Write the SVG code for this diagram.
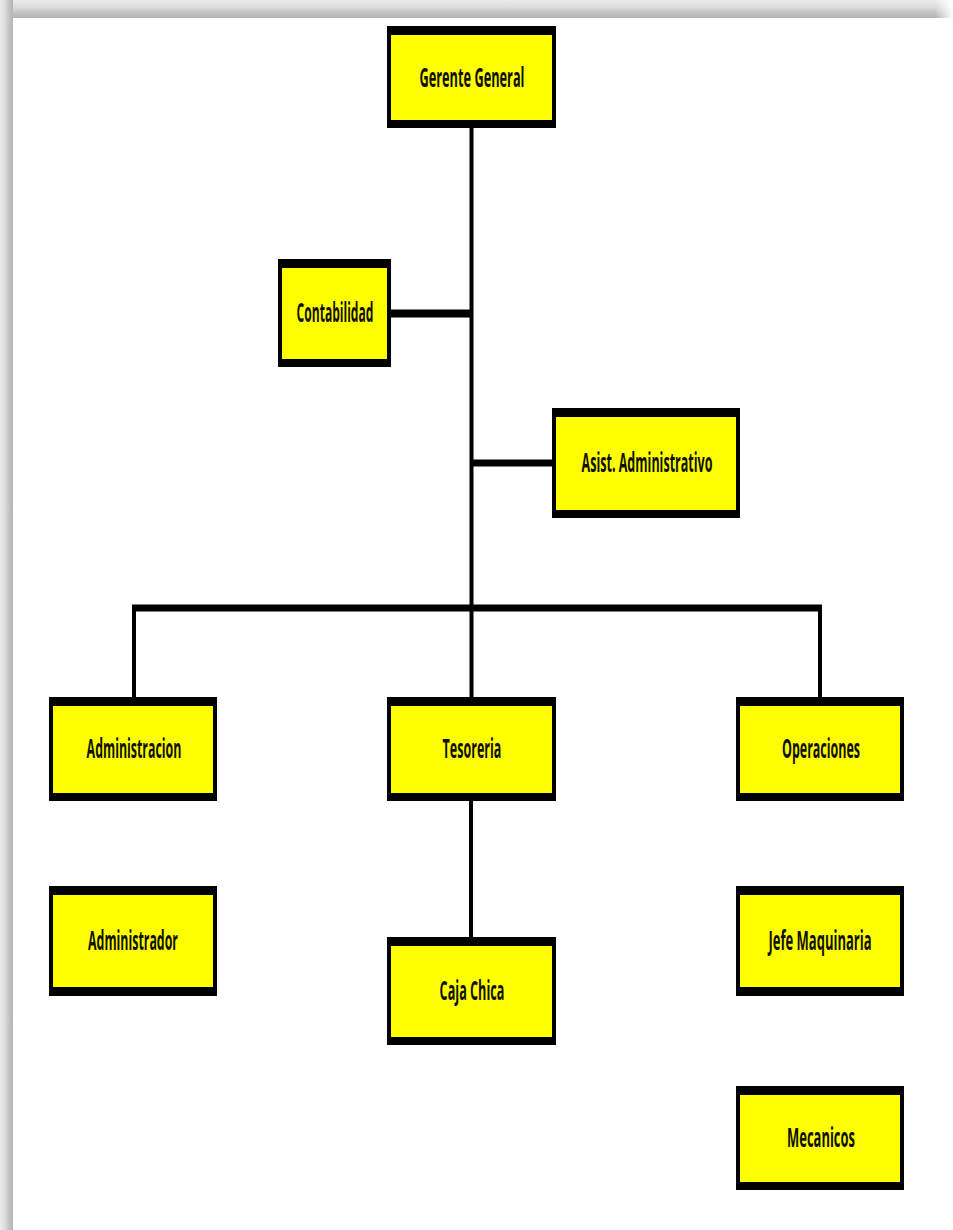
<svg xmlns="http://www.w3.org/2000/svg" width="953" height="1230" viewBox="0 0 953 1230">
<defs>
<linearGradient id="gTop" x1="0" y1="0" x2="0" y2="1">
<stop offset="0" stop-color="#ececec"/>
<stop offset="0.4" stop-color="#dcdcdc"/>
<stop offset="0.7" stop-color="#c4c4c4"/>
<stop offset="1" stop-color="#b3b3b3"/>
</linearGradient>
<linearGradient id="gLeft" x1="0" y1="0" x2="1" y2="0">
<stop offset="0" stop-color="#ececec"/>
<stop offset="0.4" stop-color="#dcdcdc"/>
<stop offset="0.7" stop-color="#c4c4c4"/>
<stop offset="1" stop-color="#b3b3b3"/>
</linearGradient>
<linearGradient id="gFade" x1="0" y1="0" x2="1" y2="0">
<stop offset="0" stop-color="#ffffff" stop-opacity="0"/>
<stop offset="1" stop-color="#ffffff" stop-opacity="1"/>
</linearGradient>
</defs>
<style>
.frame{fill:#000}
.fill{fill:#ffff00}
.lbl{font-family:"Open Sans","DejaVu Sans",sans-serif;font-weight:bold;font-size:27px;fill:#111100;text-anchor:middle}
.ln{stroke:#000;fill:none}
</style>
<rect x="0" y="0" width="953" height="1230" fill="#ffffff"/>
<rect x="0" y="0" width="953" height="18" fill="url(#gTop)"/>
<rect x="935" y="0" width="18" height="18" fill="url(#gFade)"/>
<rect x="0" y="0" width="13" height="1230" fill="url(#gLeft)"/>
<g id="connectors">
<line class="ln" x1="471.5" y1="128" x2="471.5" y2="697" stroke-width="4"/>
<line class="ln" x1="132" y1="608" x2="822" y2="608" stroke-width="7"/>
<line class="ln" x1="134" y1="605" x2="134" y2="697" stroke-width="4"/>
<line class="ln" x1="820" y1="605" x2="820" y2="697" stroke-width="4"/>
<line class="ln" x1="391" y1="313.5" x2="471" y2="313.5" stroke-width="8"/>
<line class="ln" x1="471" y1="463" x2="552" y2="463" stroke-width="7"/>
<line class="ln" x1="471" y1="801" x2="471" y2="937" stroke-width="4"/>
</g>
<g id="gerente-general">
<rect class="frame" x="387" y="26" width="169" height="102"/>
<rect class="fill" x="391" y="35" width="161" height="85"/>
<text class="lbl" transform="translate(472 87) scale(0.6 1)" x="0" y="0" textLength="175" lengthAdjust="spacingAndGlyphs">Gerente General</text>
</g>
<g id="contabilidad">
<rect class="frame" x="278" y="259" width="113" height="108"/>
<rect class="fill" x="282" y="268" width="105" height="91"/>
<text class="lbl" transform="translate(335 322) scale(0.6 1)" x="0" y="0" textLength="128" lengthAdjust="spacingAndGlyphs">Contabilidad</text>
</g>
<g id="asist-administrativo">
<rect class="frame" x="552" y="408" width="188" height="110"/>
<rect class="fill" x="556" y="417" width="180" height="93"/>
<text class="lbl" transform="translate(647 472) scale(0.6 1)" x="0" y="0" textLength="218" lengthAdjust="spacingAndGlyphs">Asist. Administrativo</text>
</g>
<g id="administracion">
<rect class="frame" x="49" y="697" width="168" height="104"/>
<rect class="fill" x="53" y="706" width="160" height="87"/>
<text class="lbl" transform="translate(134 758) scale(0.6 1)" x="0" y="0" textLength="158" lengthAdjust="spacingAndGlyphs">Administracion</text>
</g>
<g id="tesoreria">
<rect class="frame" x="387" y="697" width="169" height="104"/>
<rect class="fill" x="391" y="706" width="161" height="87"/>
<text class="lbl" transform="translate(472 758) scale(0.6 1)" x="0" y="0" textLength="98" lengthAdjust="spacingAndGlyphs">Tesoreria</text>
</g>
<g id="operaciones">
<rect class="frame" x="736" y="697" width="168" height="104"/>
<rect class="fill" x="740" y="706" width="160" height="87"/>
<text class="lbl" transform="translate(821 758) scale(0.6 1)" x="0" y="0" textLength="130" lengthAdjust="spacingAndGlyphs">Operaciones</text>
</g>
<g id="administrador">
<rect class="frame" x="49" y="886" width="168" height="110"/>
<rect class="fill" x="53" y="895" width="160" height="92"/>
<text class="lbl" transform="translate(133 950) scale(0.6 1)" x="0" y="0" textLength="150" lengthAdjust="spacingAndGlyphs">Administrador</text>
</g>
<g id="caja-chica">
<rect class="frame" x="387" y="937" width="169" height="108"/>
<rect class="fill" x="391" y="946" width="161" height="91"/>
<text class="lbl" transform="translate(472 1000) scale(0.6 1)" x="0" y="0" textLength="108" lengthAdjust="spacingAndGlyphs">Caja Chica</text>
</g>
<g id="jefe-maquinaria">
<rect class="frame" x="736" y="886" width="168" height="110"/>
<rect class="fill" x="740" y="895" width="160" height="92"/>
<text class="lbl" transform="translate(820 950) scale(0.6 1)" x="0" y="0" textLength="172" lengthAdjust="spacingAndGlyphs">Jefe Maquinaria</text>
</g>
<g id="mecanicos">
<rect class="frame" x="736" y="1086" width="168" height="104"/>
<rect class="fill" x="740" y="1095" width="160" height="87"/>
<text class="lbl" transform="translate(821 1147) scale(0.6 1)" x="0" y="0" textLength="113" lengthAdjust="spacingAndGlyphs">Mecanicos</text>
</g>
</svg>
